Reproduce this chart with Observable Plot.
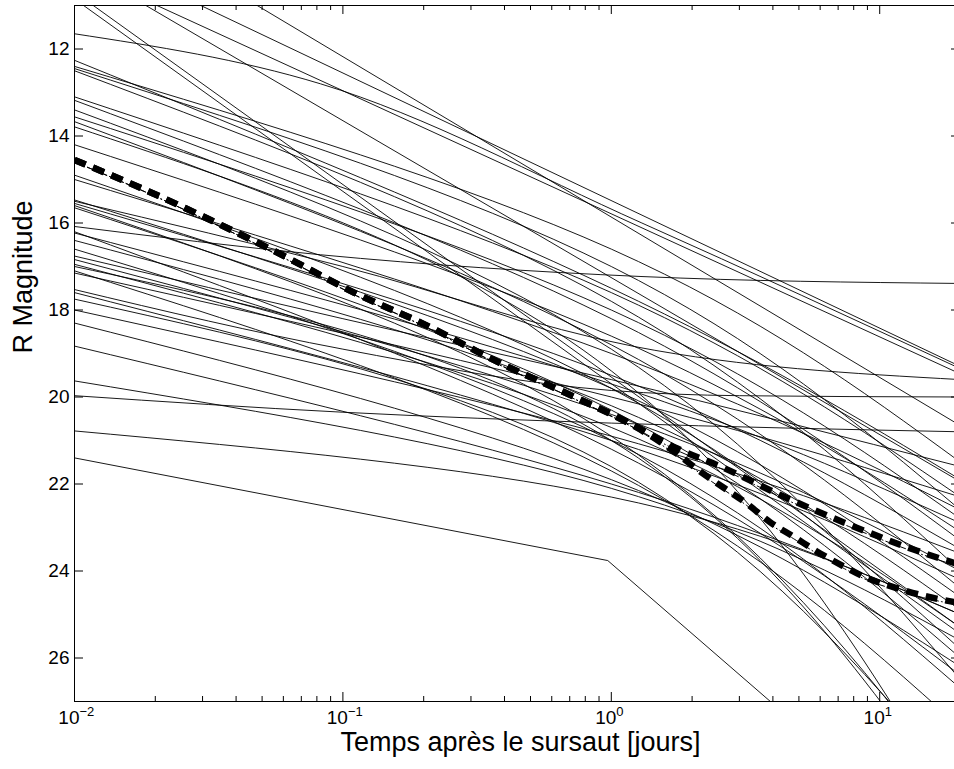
<!DOCTYPE html>
<html>
<head>
<meta charset="utf-8">
<script src="https://cdn.jsdelivr.net/npm/d3@7"></script>
<script src="https://cdn.jsdelivr.net/npm/@observablehq/plot@0.6"></script>
<style>
  html, body { margin: 0; padding: 0; background: #fff; overflow: hidden; width: 954px; height: 769px; }
  #chart { width: 960px; }
  #chart svg { max-width: none !important; display: block; }
</style>
</head>
<body>
<div id="chart"></div>
<script>
// ---- axis ticks ----
const xMajor = [0.01, 0.1, 1, 10];
const xExponents = ["\u22122", "\u22121", "0", "1"];
const xMinor = [0.02,0.03,0.04,0.05,0.06,0.07,0.08,0.09, 0.2,0.3,0.4,0.5,0.6,0.7,0.8,0.9, 2,3,4,5,6,7,8,9];
const yTicks = [12, 14, 16, 18, 20, 22, 24, 26];

// ---- straight power-law decays: magnitude at t = 0.01 d and t = 20 d ----
const straightStart = [9.62, 10.13, 10.04, 8.49, 10.69, 10.85];
const straightEnd   = [19.30, 19.47, 21.95, 20.66, 25.30, 25.45];

// ---- main bundle: magnitude at t = 0.01, 1 and 20 days ----
const bundleTimes = [0.01, 1, 20];
const bundleAt001 = [12.26, 12.40, 12.45, 12.50, 13.10, 13.18, 13.40, 13.56, 13.67, 13.79, 14.20, 14.90, 15.00, 15.47, 15.55, 15.60, 15.65, 16.20, 16.23, 16.40, 16.60, 16.84, 16.95, 17.00, 17.10, 17.15, 17.60, 17.75, 18.00, 18.30, 18.83, 19.63, 20.78];
const bundleAt1   = [17.5, 16.6, 17.0, 17.8, 17.6, 18.2, 18.9, 18.0, 18.8, 19.4, 18.6, 19.8, 19.0, 19.8, 19.5, 20.9, 20.3, 21.2, 19.7, 20.2, 21.0, 20.4, 20.7, 21.0, 21.7, 20.0, 21.0, 21.6, 20.9, 21.9, 22.0, 22.1, 22.3];
const bundleAt20  = [21.9, 21.5, 22.6, 24.0, 22.3, 23.3, 26.5, 22.8, 24.4, 29.6, 23.1, 25.8, 22.6, 24.6, 23.5, 29.1, 26.0, 26.4, 22.9, 24.9, 26.7, 24.0, 25.3, 29.5, 27.6, 22.3, 24.2, 28.9, 23.6, 26.2, 25.0, 25.6, 25.0];

// ---- flattening curves (host galaxy) : [t (days), R mag] ----
const hostCurves = [
  [[0.01, 11.65], [0.0825, 12.8], [1.3, 16.0], [20, 19.35]],
  [[0.01, 16.08], [0.0825, 16.73], [1.29, 17.23], [20, 17.39]],
  [[0.01, 15.50], [0.1, 17.0], [1.22, 18.84], [20, 19.6]],
  [[0.01, 16.76], [0.1, 18.2], [1, 19.6], [20, 21.6]],
  [[0.01, 17.53], [0.1, 18.9], [1, 19.85], [3, 19.97], [20, 20.0]],
  [[0.01, 19.97], [0.1, 20.35], [1, 20.6], [20, 20.8]]
];

// ---- broken power law (jet break near 1 day) ----
const brokenCurve = [[0.01, 21.4], [0.97, 23.76], [4.0, 27.05]];

// ---- thick dashed model curves ----
const dashSharedT   = [0.01, 0.0176, 0.0321, 0.0622, 0.110, 0.195, 0.394, 0.718, 1.18];
const dashSharedMag = [14.55, 15.19, 15.93, 16.80, 17.60, 18.29, 19.25, 19.98, 20.62];
const dashUpperT    = [1.77, 2.58, 4.32, 7.74, 13.7, 20];
const dashUpperMag  = [21.19, 21.61, 22.27, 22.94, 23.53, 23.86];
const dashLowerT    = [1.72, 2.13, 2.60, 3.20, 3.89, 4.83, 5.83, 7.28, 9.04, 11.4, 14.4, 20];
const dashLowerMag  = [21.26, 21.70, 22.07, 22.45, 22.87, 23.23, 23.55, 23.88, 24.17, 24.38, 24.56, 24.74];

// ---- build tables ----
const straightRows = [];
straightStart.forEach((m, i) => {
  straightRows.push({id: "s" + i, t: 0.01, mag: m}, {id: "s" + i, t: 20, mag: straightEnd[i]});
});
const bundleRows = [];
bundleAt001.forEach((m, i) => {
  [m, bundleAt1[i], bundleAt20[i]].forEach((v, j) => bundleRows.push({id: "b" + i, t: bundleTimes[j], mag: v}));
});
const hostRows = [];
hostCurves.forEach((c, i) => c.forEach(([t, mag]) => hostRows.push({id: "h" + i, t, mag})));
const brokenRows = brokenCurve.map(([t, mag]) => ({t, mag}));
const shared = dashSharedT.map((t, i) => ({t, mag: dashSharedMag[i]}));
const upper = shared.concat(dashUpperT.map((t, i) => ({t, mag: dashUpperMag[i]})));
const lower = shared.concat(dashLowerT.map((t, i) => ({t, mag: dashLowerMag[i]})));

const FONT = "'Liberation Sans', Arial, Helvetica, sans-serif";
const innerW = 960 - 74, innerH = 701 - 5;

const chart = Plot.plot({
  width: 960,
  height: 769,
  marginLeft: 74,
  marginRight: 0,
  marginTop: 5,
  marginBottom: 68,
  style: {fontFamily: FONT, background: "#fff", color: "black", overflow: "visible"},
  x: {type: "log", domain: [0.01, 20], axis: null},
  y: {domain: [11, 27], reverse: true, axis: null},
  marks: [
    Plot.line(straightRows, {x: "t", y: "mag", z: "id", stroke: "black", strokeWidth: 0.9, clip: true}),
    Plot.line(bundleRows, {x: "t", y: "mag", z: "id", stroke: "black", strokeWidth: 0.9, curve: "natural", clip: true}),
    Plot.line(hostRows, {x: "t", y: "mag", z: "id", stroke: "black", strokeWidth: 0.9, curve: "monotone-x", clip: true}),
    Plot.line(brokenRows, {x: "t", y: "mag", stroke: "black", strokeWidth: 0.9, clip: true}),
    // thin dash-dot companions
    Plot.line(upper, {x: "t", y: "mag", stroke: "black", strokeWidth: 1, strokeDasharray: "7,3,1,3", curve: "monotone-x", clip: true, dy: 2}),
    Plot.line(lower, {x: "t", y: "mag", stroke: "black", strokeWidth: 1, strokeDasharray: "7,3,1,3", curve: "monotone-x", clip: true, dy: 2}),
    // thick dashed
    Plot.line(upper, {x: "t", y: "mag", stroke: "black", strokeWidth: 6.5, strokeDasharray: "12,8", strokeLinecap: "butt", curve: "monotone-x", clip: true}),
    Plot.line(lower, {x: "t", y: "mag", stroke: "black", strokeWidth: 6.5, strokeDasharray: "12,8", strokeLinecap: "butt", curve: "monotone-x", clip: true}),
    // frame and inward ticks
    Plot.frame({stroke: "black", strokeWidth: 1}),
    Plot.tickX(xMajor, {x: d => d, insetTop: innerH - 9, stroke: "black"}),
    Plot.tickX(xMajor, {x: d => d, insetBottom: innerH - 9, stroke: "black"}),
    Plot.tickX(xMinor, {x: d => d, insetTop: innerH - 5, stroke: "black"}),
    Plot.tickX(xMinor, {x: d => d, insetBottom: innerH - 5, stroke: "black"}),
    Plot.tickY(yTicks, {y: d => d, insetRight: innerW - 9, stroke: "black"}),
    Plot.tickY(yTicks, {y: d => d, insetLeft: innerW - 9, stroke: "black"}),
    // tick labels
    Plot.text(yTicks, {y: d => d, frameAnchor: "left", dx: -5, textAnchor: "end", text: d => String(d), fontSize: 19, fill: "black"}),
    Plot.text(xMajor, {x: d => d, frameAnchor: "bottom", dx: 5, dy: 22.5, textAnchor: "end", text: () => "10", fontSize: 19, fill: "black"}),
    Plot.text(xMajor, {x: d => d, frameAnchor: "bottom", dx: 5, dy: 14.5, textAnchor: "start", text: (d, i) => xExponents[i], fontSize: 13, fill: "black"}),
    // axis titles
    Plot.text(["Temps apr\u00e8s le sursaut [jours]"], {frameAnchor: "bottom", dx: 3, dy: 49, text: d => d, fontSize: 27, fill: "black"}),
    Plot.text(["R Magnitude"], {frameAnchor: "left", dx: -51, rotate: -90, text: d => d, fontSize: 27, fill: "black"})
  ]
});
document.getElementById("chart").appendChild(chart);
</script>
</body>
</html>
